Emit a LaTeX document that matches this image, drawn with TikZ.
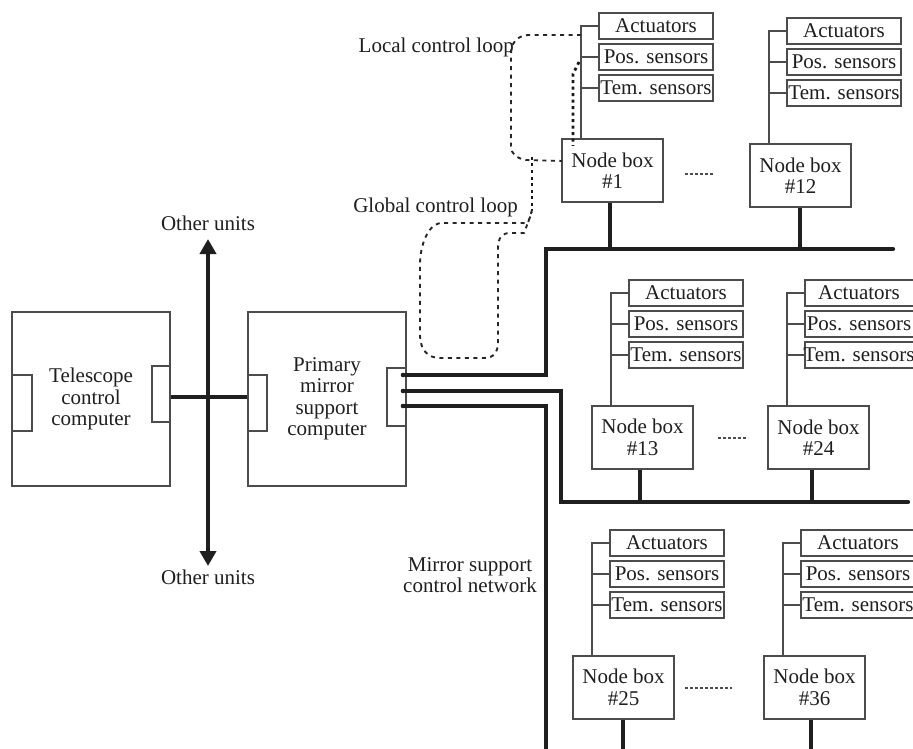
\documentclass[tikz,border=0pt]{standalone}
\usepackage{fontspec}
\setmainfont{Liberation Serif}
\usetikzlibrary{arrows.meta}
\newcommand\ngroup[8]{% #1 id, #2 box left, #3 box top, #4 number, #5 sensor top, #6 stem x, #7 bus y, #8 text x shift
  \node[cbox, minimum width=101pt, minimum height=63pt, align=center] (nb#1) at (#2+50.5,#3+31.5) {Node box\\\##4};
  \node[sbox] (act#1) at (#2+94,#5+13) {};
  \node[sbox] (pos#1) at (#2+94,#5+44) {};
  \node[sbox] (tem#1) at (#2+94,#5+75) {};
  \node at ([xshift=#8]act#1.center) {Actuators};
  \node at ([xshift=#8]pos#1.center) {Pos. sensors};
  \node at ([xshift=#8]tem#1.center) {Tem. sensors};
  \coordinate (v#1) at (#2+19,#5+13);
  \draw[wire] (nb#1.north -| v#1) -- (v#1) -- (act#1.west);
  \draw[wire] (pos#1.west -| v#1) -- (pos#1.west);
  \draw[wire] (tem#1.west -| v#1) -- (tem#1.west);
  \coordinate (s#1) at (#6,#7);
  \draw[bus] (nb#1.south -| s#1) -- (s#1);
}
\begin{document}
\begin{tikzpicture}[x=1pt,y=-1pt,
  every node/.style={font=\fontsize{21}{21.5}\selectfont, text=black!88, inner sep=0pt},
  cbox/.style={draw=black!70, line width=1.4pt},
  sbox/.style={draw=black!70, line width=1.4pt, minimum width=114pt, minimum height=26pt},
  wire/.style={draw=black!70, line width=1.4pt},
  bus/.style={draw=black!88, line width=4pt},
  loopl/.style={draw=black!85, line width=1.9pt, dash pattern=on 4pt off 4.5pt},
  loopt/.style={draw=black!90, line width=2.8pt, dash pattern=on 3pt off 3.5pt},
  gapline/.style={draw=black!70, line width=1.1pt, dash pattern=on 3pt off 2pt},
]
\useasboundingbox[fill=white] (0,0) rectangle (913,749);

% computers
\node[cbox, minimum width=158pt, minimum height=174pt, align=center] (tcc) at (91,399) {Telescope\\control\\computer};
\node[cbox, minimum width=20pt, minimum height=56pt] (tl) at (22,403) {};
\node[cbox, minimum width=18pt, minimum height=56pt] (tr) at (161,394) {};
\node[cbox, minimum width=158pt, minimum height=174pt, align=center] (pmc) at (327,399) {Primary\\mirror\\support\\computer};
\node[cbox, minimum width=19pt, minimum height=56pt] (pl) at (257.5,403) {};
\node[cbox, minimum width=19pt, minimum height=58pt] (pr) at (396.5,397) {};

% link and other units arrow
\coordinate (link) at (208,397);
\draw[bus] (tr.east |- link) -- (pl.west |- link);
\node (ou1) at (208,223) {Other units};
\node (ou2) at (208,577) {Other units};
\coordinate (at) at (208,239);
\coordinate (ab) at (208,566);
\draw[bus, {Triangle[width=16pt,length=15pt]}-{Triangle[width=16pt,length=15pt]}] (at) -- (ab);

% node groups
\ngroup{A}{562}{139}{1}{13}{610}{249}{0pt}
\ngroup{B}{750}{144}{12}{18}{800}{249}{0pt}
\ngroup{C}{592}{406}{13}{280}{640}{502}{0pt}
\ngroup{D}{768}{406}{24}{280}{812}{502}{-3pt}
\ngroup{E}{573}{656}{25}{530}{623}{749}{0pt}
\ngroup{F}{764}{656}{36}{530}{811}{749}{0pt}

% network buses
\coordinate (p1) at (403,375);
\coordinate (p2) at (403,391);
\coordinate (p3) at (403,406);
\coordinate (b1) at (893,249);
\coordinate (b2) at (908,502);
\coordinate (b3) at (546,752);
\draw[bus] (p1) -- (546,375) -- (546,249) -- (b1);
\draw[bus] (p2) -- (561,391) -- (561,502) -- (b2);
\draw[bus] (p3) -- (546,406) -- (b3);
\draw[bus, line cap=round] (b1) -- +(0.1,0);
\draw[bus, line cap=round] (b2) -- +(0.1,0);
\foreach \p in {p1,p2,p3} \fill[black!88] (\p) circle (2.3pt);

% gaps between node boxes
\draw[gapline] (685,174) -- (714,174);
\draw[gapline] (718,438) -- (748,438);
\draw[gapline] (685,688) -- (732,688);

% labels
\node[anchor=east] (llab) at (514,47) {Local control loop};
\node[anchor=east] (glab) at (518,207) {Global control loop};
\node[align=center] (mscn) at (470,575) {Mirror support\\control network};

% control loops
\coordinate (lin) at (562,161);
\draw[loopl] (581,35) -- (528,35) .. controls (516,36) and (511,44) .. (511,54) -- (511,146)
  .. controls (511,154) and (516,158) .. (526,160) -- (lin);
\draw[loopt] (579,62) -- (573,74) -- (573,146);
\draw[loopt] (532,157) -- (532,210);
\draw[loopl] (532,210) -- (528,223) -- (440,223) .. controls (428,225) and (420,245) .. (420,265)
  -- (420,335) .. controls (420,350) and (428,358) .. (440,358) -- (484,358)
  .. controls (494,358) and (498,352) .. (498,342) -- (498,248)
  .. controls (498,238) and (502,233) .. (510,233) -- (524,233) -- (532,212);
\end{tikzpicture}
\end{document}
